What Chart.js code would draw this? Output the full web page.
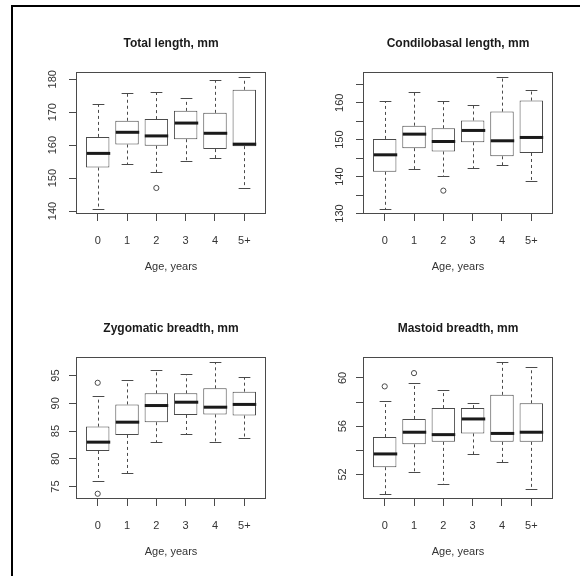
<!DOCTYPE html>
<html>
<head>
<meta charset="utf-8">
<script src="https://cdn.jsdelivr.net/npm/chart.js@4.4.1/dist/chart.umd.min.js"></script>
<style>
  html, body { margin: 0; padding: 0; background: #fff; overflow: hidden; }
  body { width: 580px; height: 576px; position: relative; }
  #frame { position: absolute; left: 11px; top: 5px; width: 640px; height: 640px;
           border-top: 2px solid #000; border-left: 2px solid #000; }
  .panel { position: absolute; }
  .panel canvas { display: block; }
</style>
</head>
<body>
<div id="frame"></div>
<div class="panel" id="p1"><canvas id="c1"></canvas></div>
<div class="panel" id="p2"><canvas id="c2"></canvas></div>
<div class="panel" id="p3"><canvas id="c3"></canvas></div>
<div class="panel" id="p4"><canvas id="c4"></canvas></div>
<script>
// ---- data ----
const ages = ['0', '1', '2', '3', '4', '5+'];
const xTitle = 'Age, years';

// Total length, mm
const totalTitle = 'Total length, mm';
const totalLow  = [140.7, 154.2, 151.7, 155.3, 156.2, 147.0];
const totalQ1   = [153.2, 160.2, 159.8, 161.8, 158.8, 159.7];
const totalMed  = [157.5, 163.9, 162.8, 166.7, 163.6, 160.3];
const totalQ3   = [162.5, 167.4, 167.9, 170.4, 169.8, 176.8];
const totalHigh = [172.4, 175.9, 176.2, 174.4, 179.8, 180.6];
const totalOut  = [[], [], [147.0], [], [], []];
const totalTicks = [140, 150, 160, 170, 180];
const totalTickLabels = ['140', '150', '160', '170', '180'];

// Condilobasal length, mm
const condTitle = 'Condilobasal length, mm';
const condLow  = [131.3, 142.1, 140.1, 142.3, 143.1, 138.9];
const condQ1   = [141.3, 147.7, 146.8, 149.3, 145.5, 146.4];
const condMed  = [145.9, 151.5, 149.5, 152.5, 149.7, 150.6];
const condQ3   = [150.2, 153.8, 153.1, 155.2, 157.6, 160.6];
const condHigh = [160.5, 162.8, 160.5, 159.3, 166.9, 163.5];
const condOut  = [[], [], [136.2], [], [], []];
const condTicks = [130, 135, 140, 145, 150, 155, 160, 165];
const condTickLabels = ['130', '', '140', '', '150', '', '160', ''];

// Zygomatic breadth, mm
const zygTitle = 'Zygomatic breadth, mm';
const zygLow  = [76.0, 77.5, 83.0, 84.4, 83.0, 83.8];
const zygQ1   = [81.4, 84.3, 86.6, 87.9, 88.0, 87.8];
const zygMed  = [83.0, 86.6, 89.6, 90.2, 89.3, 89.8];
const zygQ3   = [85.8, 89.8, 91.8, 91.8, 92.7, 92.1];
const zygHigh = [91.3, 94.2, 96.0, 95.2, 97.4, 94.7];
const zygOut  = [[93.7, 73.7], [], [], [], [], []];
const zygTicks = [75, 80, 85, 90, 95];
const zygTickLabels = ['75', '80', '85', '90', '95'];

// Mastoid breadth, mm
const mastTitle = 'Mastoid breadth, mm';
const mastLow  = [50.4, 52.2, 51.2, 53.7, 53.0, 50.8];
const mastQ1   = [52.6, 54.5, 54.7, 55.4, 54.7, 54.7];
const mastMed  = [53.7, 55.5, 55.3, 56.6, 55.4, 55.5];
const mastQ3   = [55.1, 56.6, 57.5, 57.5, 58.6, 57.9];
const mastHigh = [58.1, 59.6, 59.0, 57.9, 61.3, 60.9];
const mastOut  = [[59.3], [60.4], [], [], [], []];
const mastTicks = [52, 54, 56, 58, 60];
const mastTickLabels = ['52', '', '56', '', '60'];

// ---- drawing ----
Chart.defaults.font.family = "'Liberation Sans', Arial, Helvetica, sans-serif";
Chart.defaults.color = '#333';

const LINE = '#4a4a4a';
const MEDIAN = '#1a1a1a';

// whiskers, staples, medians and the plot frame, placed with the chart's scales
const boxPlot = {
  id: 'boxPlot',
  afterDatasetsDraw(chart) {
    const { ctx, chartArea: a, scales: { x, y } } = chart;
    const ds = chart.data.datasets[0];
    const bars = chart.getDatasetMeta(0).data;
    const seg = (x1, y1, x2, y2) => {
      ctx.beginPath(); ctx.moveTo(x1, y1); ctx.lineTo(x2, y2); ctx.stroke();
    };
    ctx.save();
    bars.forEach((bar, i) => {
      const cx = Math.round(x.getPixelForValue(i + 1)) + 0.5;
      const half = bar.width / 2;
      const cap = bar.width / 4;
      const yLow = Math.round(y.getPixelForValue(ds.low[i])) + 0.5;
      const yHigh = Math.round(y.getPixelForValue(ds.high[i])) + 0.5;
      const yQ1 = y.getPixelForValue(ds.q1[i]);
      const yQ3 = y.getPixelForValue(ds.q3[i]);
      const yMed = y.getPixelForValue(ds.med[i]);
      ctx.strokeStyle = LINE;
      ctx.lineWidth = 1;
      ctx.setLineDash([3, 3]);
      seg(cx, yQ3, cx, yHigh);
      seg(cx, yQ1, cx, yLow);
      ctx.setLineDash([]);
      seg(cx - cap, yHigh, cx + cap, yHigh);
      seg(cx - cap, yLow, cx + cap, yLow);
      ctx.strokeStyle = MEDIAN;
      ctx.lineWidth = 3;
      seg(cx - half, yMed, cx + half, yMed);
    });
    ctx.strokeStyle = LINE;
    ctx.lineWidth = 1;
    ctx.strokeRect(Math.round(a.left) + 0.5, Math.round(a.top) + 0.5,
                   Math.round(a.right - a.left) - 1, Math.round(a.bottom - a.top) - 1);
    ctx.restore();
  }
};

function makePanel(id, plot, title, low, q1, med, q3, high, outliers, yTicks, yLabels) {
  // plot = target plot rectangle on the page
  const padL = 64, padT = 66, padR = 33, padB = 82;
  const wrap = document.getElementById('p' + id);
  const w = plot.r - plot.l + padL + padR;
  const h = plot.b - plot.t + padT + padB;
  wrap.style.left = (plot.l - padL) + 'px';
  wrap.style.top = (plot.t - padT) + 'px';
  wrap.style.width = w + 'px';
  wrap.style.height = h + 'px';

  const allOut = outliers.flat();
  const lo = Math.min(...low, ...allOut);
  const hi = Math.max(...high, ...allOut);
  const ext = (hi - lo) * 0.04;
  const n = ages.length;

  const boxes = ages.map((_, i) => ({ x: i + 1, y: [q1[i], q3[i]] }));
  const outPts = [];
  outliers.forEach((vals, i) => vals.forEach(v => outPts.push({ x: i + 1, y: v })));

  return new Chart(document.getElementById('c' + id), {
    type: 'bar',
    data: {
      datasets: [{
        data: boxes,
        low, q1, med, q3, high,
        backgroundColor: '#fff',
        borderColor: LINE,
        borderWidth: 1,
        borderSkipped: false,
        categoryPercentage: 1,
        barPercentage: 0.8,
      }, {
        type: 'scatter',
        data: outPts,
        pointStyle: 'circle',
        pointRadius: 2.6,
        pointBackgroundColor: 'rgba(0,0,0,0)',
        pointBorderColor: LINE,
        pointBorderWidth: 1,
      }],
    },
    options: {
      responsive: true,
      maintainAspectRatio: false,
      animation: false,
      layout: { padding: { left: 0, right: padR, top: 0, bottom: 0 } },
      plugins: {
        legend: { display: false },
        tooltip: { enabled: false },
        title: {
          display: true,
          fullSize: false,   // centred over the plot area, like R's main title
          text: title,
          color: '#1a1a1a',
          font: { size: 12, weight: 'bold' },
          padding: { top: 30.8, bottom: 20.8 },
        },
      },
      scales: {
        x: {
          type: 'linear',
          bounds: 'data',
          offset: false,
          min: 0.5 - n * 0.04,
          max: n + 0.5 + n * 0.04,
          afterBuildTicks: s => { s.ticks = ages.map((_, i) => ({ value: i + 1 })); },
          afterFit: s => { s.height = padB; },
          grid: { offset: false, drawOnChartArea: false, drawTicks: true, tickLength: 7, color: LINE },
          border: { display: false },
          ticks: {
            autoSkip: false,
            maxRotation: 0,
            padding: 13,
            font: { size: 11 },
            color: '#333',
            callback: (v, i) => ages[i],
          },
          title: {
            display: true,
            text: xTitle,
            font: { size: 11 },
            color: '#333',
            padding: { top: 0, bottom: 22 },
          },
        },
        y: {
          type: 'linear',
          bounds: 'data',
          min: lo - ext,
          max: hi + ext,
          afterBuildTicks: s => { s.ticks = yTicks.map(v => ({ value: v })); },
          afterFit: s => { s.width = padL; },
          grid: { drawOnChartArea: false, drawTicks: true, tickLength: 7, color: LINE },
          border: { display: false },
          ticks: {
            autoSkip: false,
            minRotation: 90,
            maxRotation: 90,
            crossAlign: 'center',
            padding: 7,
            font: { size: 11 },
            color: '#333',
            callback: (v, i) => yLabels[i],
          },
        },
      },
    },
    plugins: [boxPlot],
  });
}

makePanel(1, { l: 76, t: 72, r: 266, b: 214 }, totalTitle,
  totalLow, totalQ1, totalMed, totalQ3, totalHigh, totalOut, totalTicks, totalTickLabels);
makePanel(2, { l: 363, t: 72, r: 553, b: 214 }, condTitle,
  condLow, condQ1, condMed, condQ3, condHigh, condOut, condTicks, condTickLabels);
makePanel(3, { l: 76, t: 357, r: 266, b: 499 }, zygTitle,
  zygLow, zygQ1, zygMed, zygQ3, zygHigh, zygOut, zygTicks, zygTickLabels);
makePanel(4, { l: 363, t: 357, r: 553, b: 499 }, mastTitle,
  mastLow, mastQ1, mastMed, mastQ3, mastHigh, mastOut, mastTicks, mastTickLabels);
</script>
</body>
</html>
